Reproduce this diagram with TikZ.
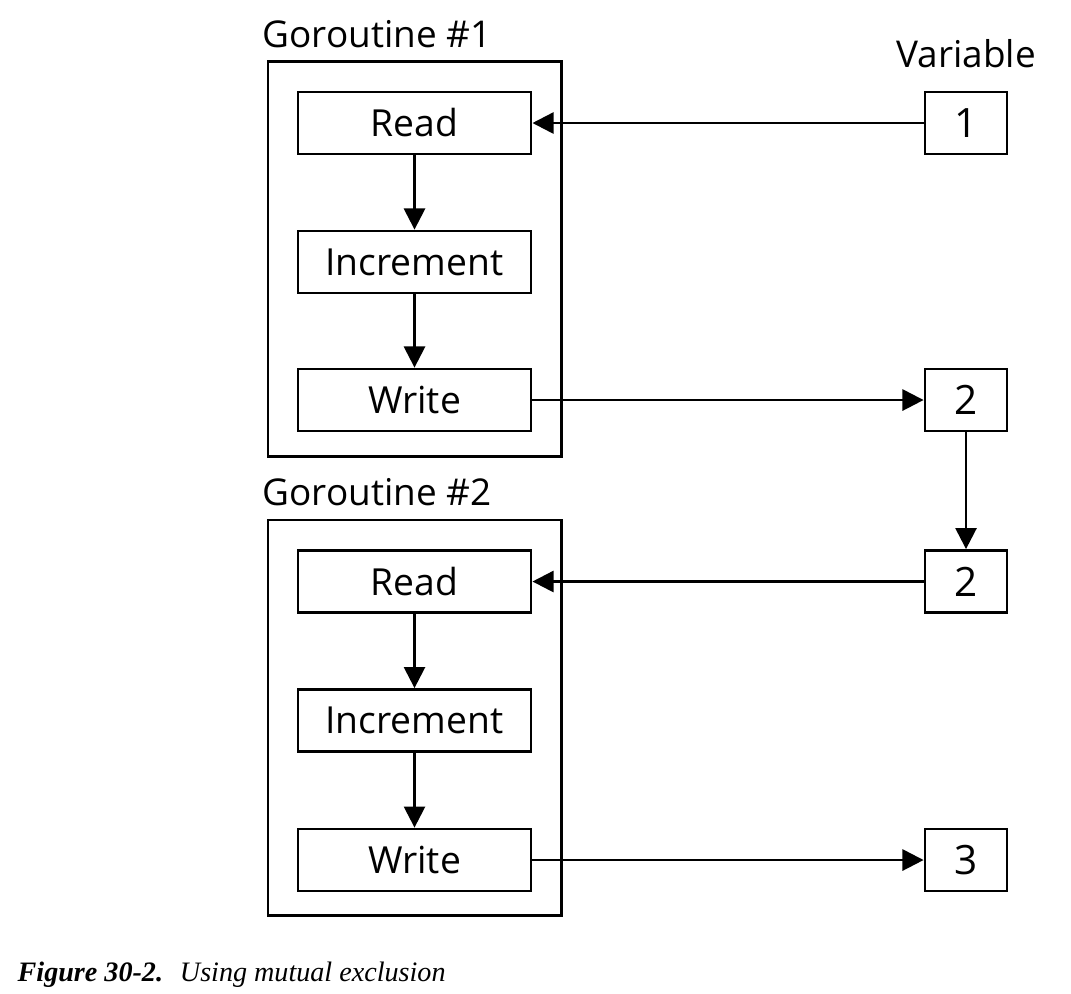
\documentclass[tikz,border=0pt]{standalone}
\usepackage{fontspec}
\setmainfont{Open Sans}
\newfontfamily\capfont{Liberation Serif}
\usetikzlibrary{arrows.meta}
\begin{document}
\begin{tikzpicture}[x=0.01cm,y=-0.01cm,
  box/.style={draw,line width=0.8pt,minimum width=2.33cm,minimum height=0.62cm,inner sep=0pt,font=\fontsize{10.6}{12}\selectfont},
  vbox/.style={draw,line width=0.8pt,minimum width=0.82cm,minimum height=0.62cm,inner sep=0pt,font=\fontsize{11.5}{12}\selectfont},
  group/.style={draw,line width=0.8pt,minimum width=2.93cm,inner sep=0pt},
  lbl/.style={font=\fontsize{10.5}{12}\selectfont,inner sep=0pt},
  arr/.style={line width=0.7pt,-{Triangle[length=6pt,width=6pt]}}]
\useasboundingbox (0,0) rectangle (1071,993);
\node[group,minimum height=3.94cm] (g1) at (414.5,259) {};
\node[group,minimum height=3.95cm] (g2) at (414.5,717.5) {};
\node[lbl,anchor=base west] (l1) at (262,47) {Goroutine \#1};
\node[lbl,anchor=base west] (l2) at (262,505) {Goroutine \#2};
\node[lbl,anchor=base] (lv) at (966,67) {Variable};
\node[box] (r1) at (414.5,123) {Read};
\node[box] (i1) at (414.5,262) {Increment};
\node[box] (w1) at (414.5,400) {Write};
\node[box] (r2) at (414.5,581.5) {Read};
\node[box] (i2) at (414.5,720.5) {Increment};
\node[box] (w2) at (414.5,860) {Write};
\node[vbox] (v1) at (966,123) {1};
\node[vbox] (v2) at (966,400) {2};
\node[vbox] (v3) at (966,581.5) {2};
\node[vbox] (v4) at (966,860) {3};
\draw[arr] (r1) -- (i1);
\draw[arr] (i1) -- (w1);
\draw[arr] (r2) -- (i2);
\draw[arr] (i2) -- (w2);
\draw[arr] (v1.west) -- (r1.east);
\draw[arr] (w1.east) -- (v2.west);
\draw[arr] (v2) -- (v3);
\draw[arr] (v3.west) -- (r2.east);
\draw[arr] (w2.east) -- (v4.west);
\node[anchor=base west,inner sep=0pt,font=\capfont\fontsize{8}{10}\selectfont] (cap) at (17,981) {\textbf{\textit{Figure 30-2.}}\hspace{0.6em}\textit{Using mutual exclusion}};
\end{tikzpicture}
\end{document}
